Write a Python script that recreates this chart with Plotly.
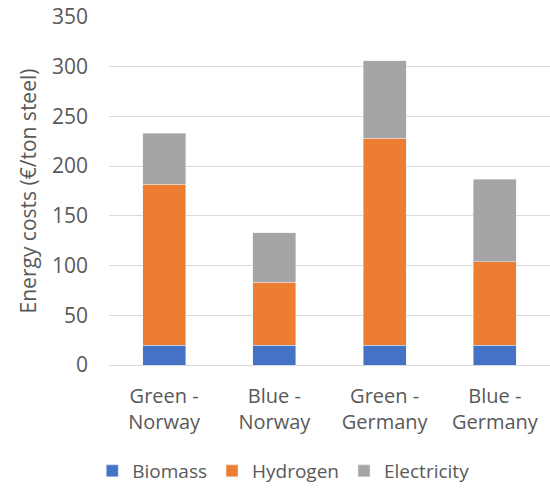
import plotly.graph_objects as go

categories = ["Green -<br>Norway", "Blue -<br>Norway", "Green -<br>Germany", "Blue -<br>Germany"]
biomass = [20, 20, 20, 20]
hydrogen = [162, 63, 208, 84]
electricity = [51, 50, 78, 83]

font_family = "Open Sans, Segoe UI, sans-serif"
text_color = "#595959"

fig = go.Figure()
fig.add_trace(go.Bar(name="Biomass", x=categories, y=biomass, marker_color="#4472C4"))
fig.add_trace(go.Bar(name="Hydrogen", x=categories, y=hydrogen, marker_color="#ED7D31"))
fig.add_trace(go.Bar(name="Electricity", x=categories, y=electricity, marker_color="#A5A5A5"))

fig.update_layout(
    width=550,
    height=490,
    barmode="stack",
    bargap=0.61,
    paper_bgcolor="white",
    plot_bgcolor="white",
    margin=dict(l=109, r=0, t=17, b=125, autoexpand=False),
    font=dict(family=font_family, size=20, color=text_color),
    legend=dict(
        orientation="h",
        xref="container",
        x=0.515,
        xanchor="center",
        yref="container",
        y=0.0,
        yanchor="bottom",
        font=dict(size=19, color=text_color),
        traceorder="normal",
        itemwidth=30,
    ),
    xaxis=dict(
        showgrid=False,
        showline=False,
        ticks="",
        automargin=False,
        tickfont=dict(size=20, color=text_color),
        ticklabelstandoff=17,
    ),
    yaxis=dict(
        range=[0, 350],
        dtick=50,
        showgrid=True,
        gridcolor="#D9D9D9",
        gridwidth=1,
        zeroline=True,
        zerolinecolor="#D9D9D9",
        zerolinewidth=1,
        showline=False,
        ticks="",
        automargin=False,
        tickfont=dict(size=21, color=text_color),
        ticklabelstandoff=20,
        title=dict(text="Energy costs (€/ton steel)", font=dict(size=21, color=text_color), standoff=9),
    ),
)

fig.write_html("out.html")
